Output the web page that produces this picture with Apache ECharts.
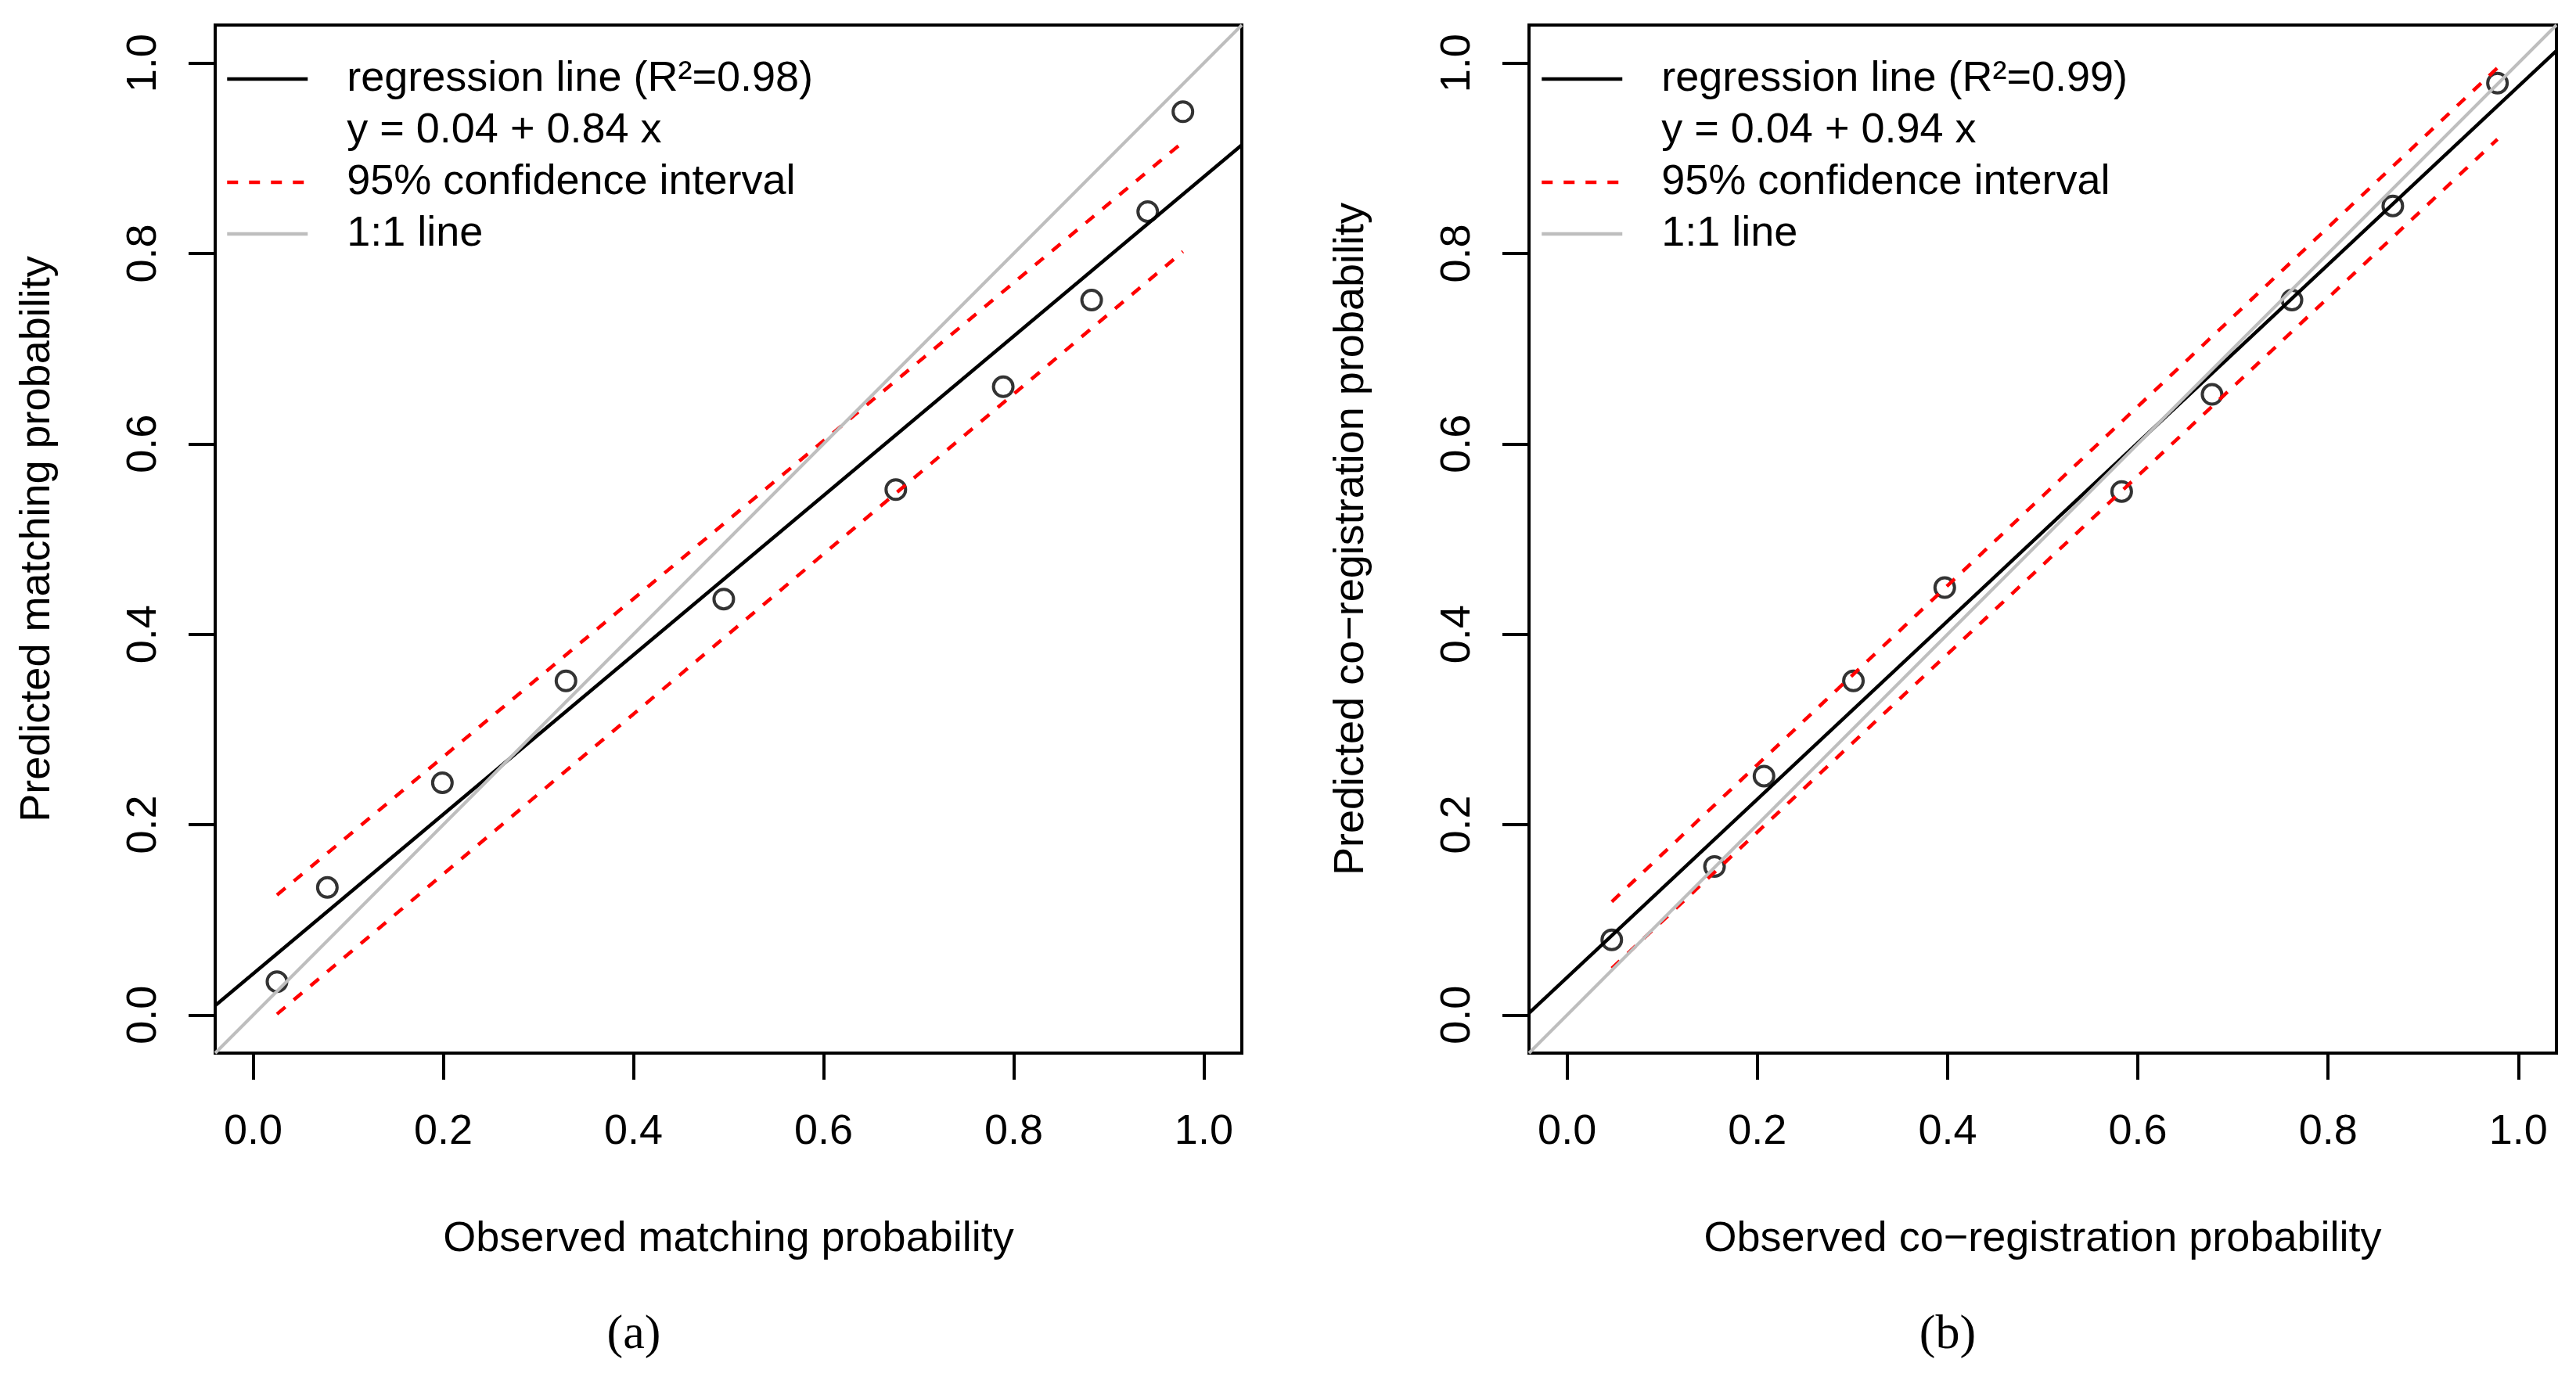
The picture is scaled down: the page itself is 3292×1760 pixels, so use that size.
<!DOCTYPE html>
<html>
<head>
<meta charset="utf-8">
<script src="https://cdn.jsdelivr.net/npm/echarts@6/dist/echarts.min.js"></script>
<style>
  html, body { margin: 0; padding: 0; background: #fff; }
  #chart { width: 3292px; height: 1760px; }
</style>
</head>
<body>
<div id="chart"></div>
<script>
// panel (a) - matching probability
const obsA = [0.025, 0.078, 0.199, 0.329, 0.495, 0.676, 0.789, 0.882, 0.941, 0.978]
const predA = [0.035, 0.134, 0.244, 0.351, 0.437, 0.552, 0.660, 0.751, 0.844, 0.949]
const regLineA = [[-0.04, 0.010], [1.04, 0.914]]
const ciUpperA = [[0.025, 0.126], [0.978, 0.917]]
const ciLowerA = [[0.025, 0.001], [0.978, 0.802]]

// panel (b) - co-registration probability
const obsB = [0.047, 0.155, 0.207, 0.301, 0.397, 0.583, 0.678, 0.762, 0.868, 0.978]
const predB = [0.079, 0.156, 0.251, 0.351, 0.449, 0.550, 0.652, 0.751, 0.850, 0.979]
const regLineB = [[-0.04, 0.002], [1.04, 1.013]]
const ciUpperB = [[0.047, 0.119], [0.978, 0.995]]
const ciLowerB = [[0.047, 0.049], [0.978, 0.920]]

const oneToOne = [[-0.04, -0.04], [1.04, 1.04]]
const tickValues = [0, 0.2, 0.4, 0.6, 0.8, 1.0]

const regNameA = 'regression line (R²=0.98)'
const eqNameA = 'y = 0.04 + 0.84 x'
const regNameB = 'regression line (R²=0.99)'
const eqNameB = 'y = 0.04 + 0.94 x'
const ciName = '95% confidence interval'
const idName = '1:1 line'

const FONT = '"Liberation Sans", Arial, Helvetica, sans-serif'
const FS = 54
const RED = '#ff0000'
const GREY = '#bebebe'

const chart = echarts.init(document.getElementById('chart'), null, { renderer: 'canvas' })

function xAxisFor(idx, title) {
  return {
    type: 'value',
    gridIndex: idx,
    min: -0.04,
    max: 1.04,
    axisLine: { show: false, onZero: false },
    axisTick: { show: true, length: 34, customValues: tickValues, lineStyle: { color: '#000', width: 4 } },
    axisLabel: {
      customValues: tickValues,
      formatter: v => v.toFixed(1),
      fontSize: FS, fontFamily: FONT, color: '#000', margin: 74
    },
    splitLine: { show: false },
    name: title,
    nameLocation: 'middle',
    nameGap: 211,
    nameTextStyle: { fontSize: FS, fontFamily: FONT, color: '#000' }
  }
}

function yAxisFor(idx, title) {
  return {
    type: 'value',
    gridIndex: idx,
    min: -0.04,
    max: 1.04,
    axisLine: { show: false, onZero: false },
    axisTick: { show: true, length: 34, customValues: tickValues, lineStyle: { color: '#000', width: 4 } },
    axisLabel: {
      customValues: tickValues,
      formatter: v => v.toFixed(1),
      rotate: 90,
      fontSize: FS, fontFamily: FONT, color: '#000', margin: 64
    },
    splitLine: { show: false },
    name: title,
    nameLocation: 'middle',
    nameGap: 200,
    nameTextStyle: { fontSize: FS, fontFamily: FONT, color: '#000' }
  }
}

function seriesFor(idx, obs, pred, reg, up, lo, regName, eqName) {
  const pts = obs.map((x, i) => [x, pred[i]])
  const base = { xAxisIndex: idx, yAxisIndex: idx, symbol: 'none', silent: true, animation: false }
  return [
    {
      type: 'scatter', xAxisIndex: idx, yAxisIndex: idx, data: pts,
      symbol: 'circle', symbolSize: 25, silent: true, animation: false,
      itemStyle: { color: 'rgba(0,0,0,0)', borderColor: '#000', borderWidth: 4 }
    },
    { ...base, type: 'line', name: regName, data: reg, itemStyle: { color: '#000' }, lineStyle: { color: '#000', width: 4.5 } },
    { ...base, type: 'line', name: eqName, data: [], itemStyle: { color: '#000' }, lineStyle: { color: '#000', width: 4, opacity: 0 } },
    { ...base, type: 'line', name: ciName, data: up, itemStyle: { color: RED }, lineStyle: { color: RED, width: 4.5, type: [14, 14] } },
    { ...base, type: 'line', name: ciName, data: lo, itemStyle: { color: RED }, lineStyle: { color: RED, width: 4.5, type: [14, 14] } },
    { ...base, type: 'line', name: idName, data: oneToOne, itemStyle: { color: GREY }, lineStyle: { color: GREY, width: 4 } }
  ]
}

function legendFor(left, regName, eqName) {
  const hideDot = { opacity: 0 }
  return {
    orient: 'vertical',
    left: left,
    top: 68,
    padding: 0,
    itemGap: 0,
    itemWidth: 103,
    itemHeight: 20,
    selectedMode: false,
    data: [
      { name: regName, itemStyle: hideDot, lineStyle: { color: '#000', width: 4.5 } },
      { name: eqName, itemStyle: hideDot, lineStyle: { opacity: 0 } },
      { name: ciName, itemStyle: hideDot, lineStyle: { color: RED, width: 4.5, type: [14, 14] } },
      { name: idName, itemStyle: hideDot, lineStyle: { color: GREY, width: 4.5 } }
    ],
    textStyle: { fontSize: FS, fontFamily: FONT, color: '#000', lineHeight: 66, padding: [0, 0, 0, 45] }
  }
}

const gridStyle = { show: true, borderColor: '#000', borderWidth: 4, backgroundColor: 'rgba(0,0,0,0)' }
const capFont = '62px "Liberation Serif", "Times New Roman", serif'

const option = {
  backgroundColor: '#fff',
  animation: false,
  grid: [
    { ...gridStyle, left: 275, top: 32, width: 1312, height: 1314 },
    { ...gridStyle, left: 1954, top: 32, width: 1313, height: 1314 }
  ],
  xAxis: [
    xAxisFor(0, 'Observed matching probability'),
    xAxisFor(1, 'Observed co\u2212registration probability')
  ],
  yAxis: [
    yAxisFor(0, 'Predicted matching probability'),
    yAxisFor(1, 'Predicted co\u2212registration probability')
  ],
  legend: [
    legendFor(288, regNameA, eqNameA),
    legendFor(1968, regNameB, eqNameB)
  ],
  series: [
    ...seriesFor(0, obsA, predA, regLineA, ciUpperA, ciLowerA, regNameA, eqNameA),
    ...seriesFor(1, obsB, predB, regLineB, ciUpperB, ciLowerB, regNameB, eqNameB)
  ],
  graphic: [
    { type: 'text', x: 810, y: 1707, style: { text: '(a)', font: capFont, fill: '#000', align: 'center', verticalAlign: 'middle' } },
    { type: 'text', x: 2489, y: 1707, style: { text: '(b)', font: capFont, fill: '#000', align: 'center', verticalAlign: 'middle' } }
  ]
}

chart.setOption(option)
</script>
</body>
</html>
